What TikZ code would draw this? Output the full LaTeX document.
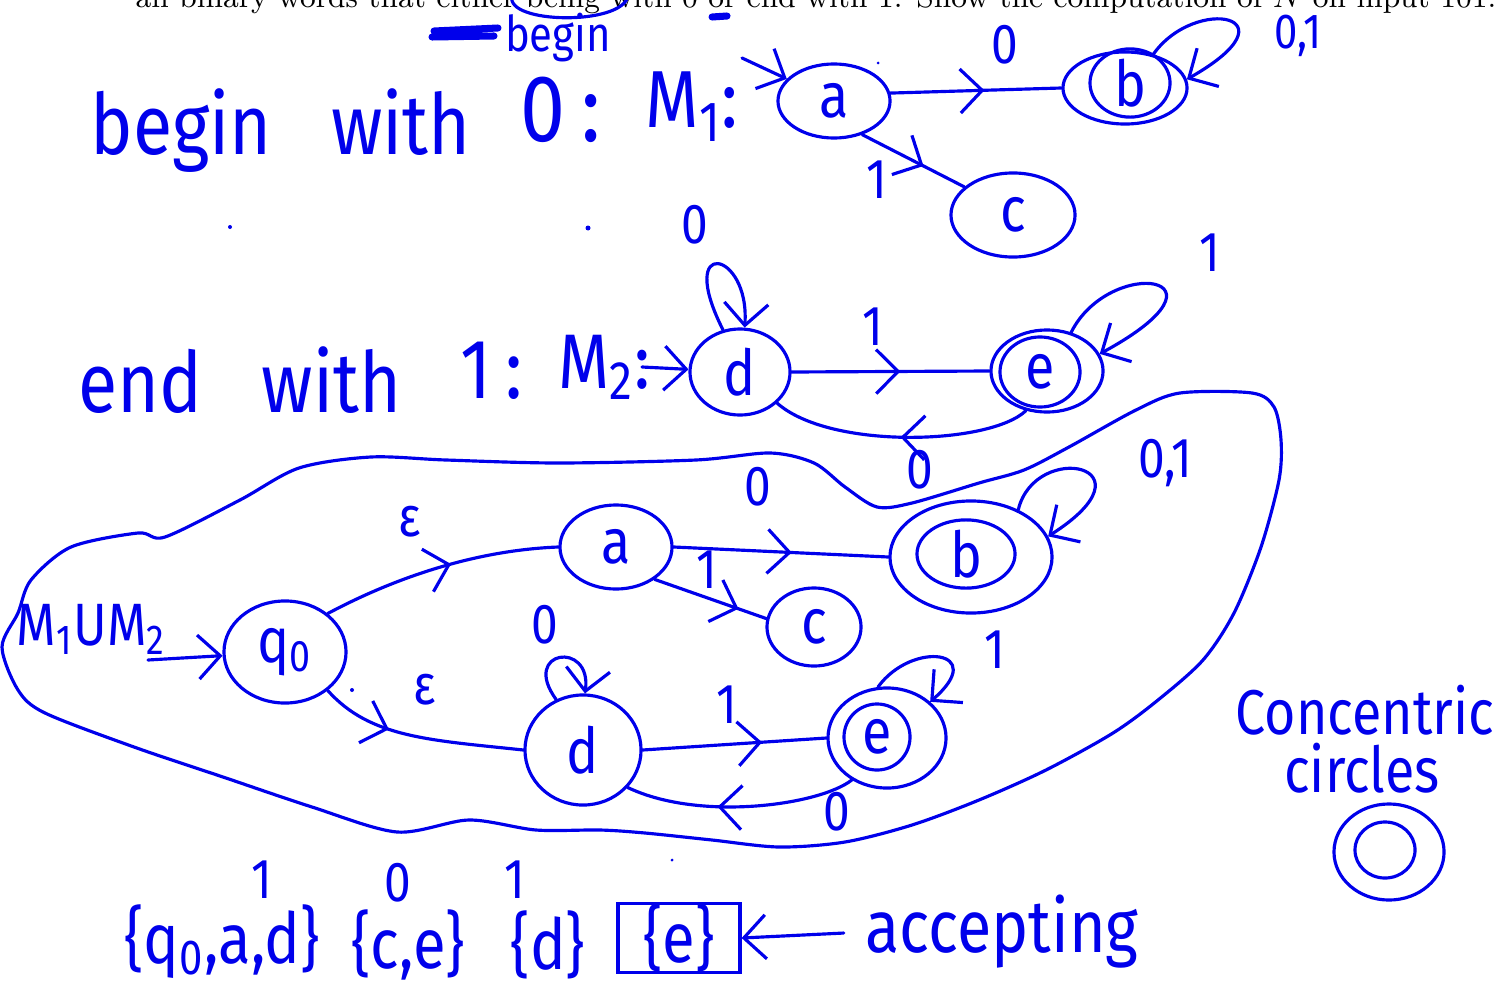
\documentclass[tikz,border=0pt]{standalone}
\usepackage{fontspec}
\usetikzlibrary{shapes.geometric,arrows.meta,decorations.markings}
\newfontfamily\hand[FakeStretch=0.85]{Fira Sans}
\definecolor{inkblue}{RGB}{0,0,235}
\tikzset{
  ink/.style={draw=inkblue, line width=0.9pt, line cap=round, line join=round},
  stnode/.style={ink, ellipse, inner sep=0pt, text=inkblue, font=\hand\fontsize{18}{20}\selectfont},
  hand/.style={text=inkblue, inner sep=0pt, font=\hand\fontsize{#1}{#1}\selectfont},
  hand/.default=16,
  midarrow/.style={postaction={decorate}, decoration={markings, mark=at position #1 with {\arrow{>}}}},
  midarrow/.default=0.55,
  >={Straight Barb[length=2.2mm,width=4.4mm]}
}
\begin{document}
\begin{tikzpicture}[x=0.01cm, y=-0.01cm]
    \useasboundingbox (0,0) rectangle (1510,988);
    % printed task line, cut at the top
    \node[anchor=base west, inner sep=0, font=\fontsize{8.7}{10}\selectfont] (task) at (135,8) {all binary words that either being with 0 or end with 1. Show the computation of $N$ on input 101.};
    \draw[ink] (512,-4) .. controls (505,24) and (622,26) .. (628,-4);
    \node[hand=14] (fix) at (558,38) {begin};
    \draw[ink, line width=2pt] (434,31) -- (498,28) (432,37) -- (494,36);
    \draw[ink, line width=2pt] (712,17) -- (727,16);

    % M1
    \node[hand=24, anchor=base west] (t1) at (90,155) {begin\hspace{0.7em}with};
    \node[hand=27, anchor=base west] (t1z) at (520,142) {0\,:};
    \node[hand=23, anchor=base west] (t1m) at (645,128) {M\textsubscript{1}:};
    \node[stnode, minimum width=1.12cm, minimum height=0.74cm] (a1) at (834,101) {a};
    \node[stnode, minimum width=1.24cm, minimum height=0.72cm] (b1) at (1125,88) {};
    \node[stnode, minimum width=0.80cm, minimum height=0.48cm] (b1in) at (1130,83) {b};
    \node[stnode, minimum width=1.24cm, minimum height=0.84cm] (c1) at (1013,215) {c};
    \coordinate (s1) at (742,58);
    \draw[ink,->] (s1) -- (a1);
    \draw[ink,midarrow] (a1.8) -- (b1.west);
    \node[hand] (l1a) at (1005,45) {0};
    \draw[ink,->] (b1.50) .. controls (1195,-5) and (1300,15) .. (b1.8);
    \node[hand=14] (l1b) at (1298,36) {0,1};
    \draw[ink,midarrow=0.6] (a1.-50) -- (c1.150);
    \node[hand] (l1c) at (877,180) {1};

    % dots and the loop label of d
    \fill[inkblue] (230,227) circle (0.02cm) (588,228) circle (0.025cm) (878,63) circle (0.015cm);
    \node[hand] (l2a) at (695,225) {0};

    % M2
    \node[hand=24, anchor=base west] (t2) at (78,412) {end\hspace{0.7em}with};
    \node[hand=24, anchor=base west] (t2o) at (460,398) {1\,:};
    \node[hand=22, anchor=base west] (t2m) at (558,388) {M\textsubscript{2}:};
    \node[stnode, minimum width=1.00cm, minimum height=0.86cm] (d2) at (740,372) {d};
    \node[stnode, minimum width=1.12cm, minimum height=0.82cm] (e2) at (1047,371) {};
    \node[stnode, minimum width=0.80cm, minimum height=0.70cm] (e2in) at (1040,372) {e};
    \coordinate (s2) at (642,367);
    \draw[ink,->] (s2) -- (d2);
    \draw[ink,->] (d2.112) .. controls (675,235) and (750,250) .. (d2.84);
    \draw[ink,midarrow] (d2.east) -- (e2.west);
    \node[hand] (l2b) at (873,327) {1};
    \draw[ink,->] (e2.58) .. controls (1110,255) and (1245,275) .. (e2.18);
    \node[hand] (l2c) at (1210,253) {1};
    \draw[ink,midarrow=0.5] (e2.-118) .. controls (990,445) and (830,450) .. (d2.-40);
    \node[hand] (l2d) at (920,470) {0};

    % N = M1 u M2
    \draw[ink] plot[smooth cycle] coordinates {(2,647) (18,613) (31,580) (71,547) (138,533) (165,537)
      (240,500) (299,468) (371,457) (446,460) (558,463) (696,460) (770,453) (814,463) (845,487)
      (877,507) (912,503) (979,483) (1024,470) (1069,447) (1136,410) (1180,393) (1252,393) (1274,407)
      (1281,440) (1279,480) (1261,547) (1234,613) (1203,660) (1158,700) (1113,733) (1046,770)
      (979,800) (912,825) (845,842) (779,847) (712,840) (645,833) (600,830) (536,830) (469,820)
      (397,832) (312,807) (223,777) (134,747) (45,713) (18,690)};
    \node[hand=17, anchor=base west] (tN) at (16,645) {M\textsubscript{1}UM\textsubscript{2}};
    \node[stnode, minimum width=1.22cm, minimum height=1.02cm] (q0) at (285,652) {q\textsubscript{0}};
    \node[stnode, minimum width=1.12cm, minimum height=0.84cm] (a) at (616,547) {a};
    \node[stnode, minimum width=1.62cm, minimum height=1.12cm] (b) at (971,557) {};
    \node[stnode, minimum width=0.98cm, minimum height=0.62cm] (bin) at (966,554) {b};
    \node[stnode, minimum width=0.94cm, minimum height=0.78cm] (c) at (814,627) {c};
    \node[stnode, minimum width=1.16cm, minimum height=1.10cm] (d) at (583,750) {d};
    \node[stnode, minimum width=1.18cm, minimum height=1.00cm] (e) at (887,738) {};
    \node[stnode, minimum width=0.66cm, minimum height=0.66cm] (ein) at (877,737) {e};
    \coordinate (s0) at (148,660);
    \draw[ink,->] (s0) -- (q0);
    \draw[ink,midarrow] (q0.42) .. controls (400,575) and (480,550) .. (a.west);
    \node[hand] (leps1) at (410,522) {ε};
    \draw[ink,midarrow=0.35] (q0.-42) .. controls (370,738) and (430,740) .. (d.west);
    \node[hand] (leps2) at (425,690) {ε};
    \fill[inkblue] (352,690) circle (0.02cm);
    \draw[ink,->] (d.118) .. controls (520,650) and (592,640) .. (d.88);
    \node[hand] (l3a) at (545,625) {0};
    \draw[ink,midarrow] (a.east) -- (b.west);
    \node[hand] (l3b) at (758,487) {0};
    \draw[ink,->] (b.45) .. controls (1035,440) and (1160,465) .. (b.15);
    \node[hand] (l3c) at (1165,463) {0,1};
    \draw[ink,midarrow=0.75] (a.-40) -- (c.170);
    \node[hand] (l3d) at (707,570) {1};
    \draw[ink,midarrow=0.65] (d.east) -- (e.west);
    \node[hand] (l3e) at (727,705) {1};
    \draw[ink,->] (e.100) .. controls (912,640) and (990,650) .. (e.40);
    \node[hand] (l3f) at (995,650) {1};
    \draw[ink,midarrow=0.6] (e.-130) .. controls (820,805) and (700,822) .. (d.-40);
    \node[hand] (l3g) at (837,812) {0};

    % computation on 101
    \node[hand=20] (set1) at (222,942) {\{q\textsubscript{0},a,d\}};
    \node[hand=20] (set2) at (408,945) {\{c,e\}};
    \node[hand=20] (set3) at (548,945) {\{d\}};
    \node[hand=20, draw=inkblue, line width=0.9pt, minimum width=1.22cm, minimum height=0.65cm] (set4) at (679,938) {\{e\}};
    \node[hand] (r1) at (262,880) {1};
    \node[hand] (r2) at (398,883) {0};
    \node[hand] (r3) at (515,880) {1};
    \fill[inkblue] (672,860) circle (0.015cm);
    \node[hand=21] (acc) at (1002,932) {accepting};
    \draw[ink,->, shorten <=6pt] (acc.west) -- (set4.east);

    % side note
    \node[hand=18, anchor=base] (conc1) at (1365,734) {Concentric};
    \node[hand=18, anchor=base] (conc2) at (1362,792) {circles};
    \node[stnode, minimum width=1.10cm, minimum height=0.96cm] (cc) at (1389,852) {};
    \node[stnode, minimum width=0.60cm, minimum height=0.56cm] (ccin) at (1385,850) {};
\end{tikzpicture}
\end{document}
